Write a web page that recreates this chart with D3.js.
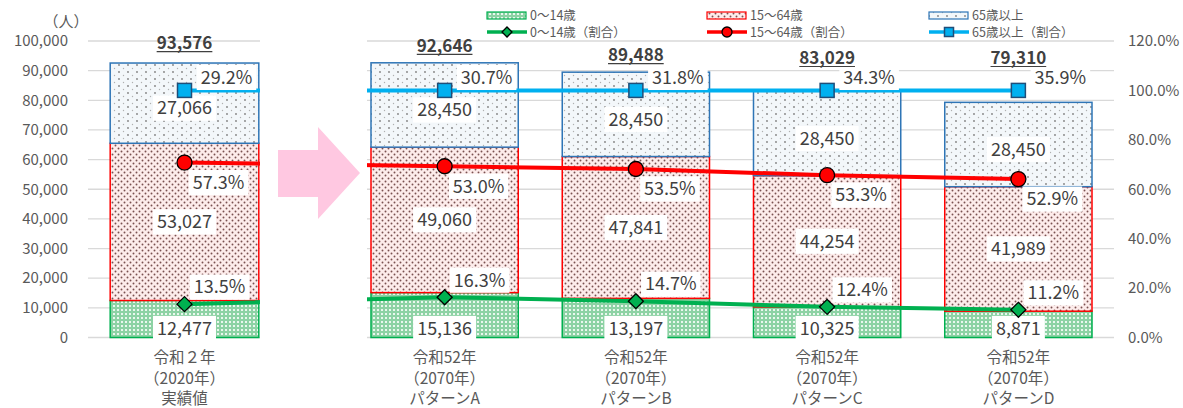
<!DOCTYPE html>
<html>
<head>
<meta charset="utf-8">
<script src="https://cdn.jsdelivr.net/npm/d3@7"></script>
<style>
  body { margin: 0; background: #fff; }
  text { font-family: "Noto Sans CJK JP", "Noto Sans", sans-serif; }
</style>
</head>
<body>
<div id="chart"></div>
<script>
// data
const categoryLines = [
  ["令和２年", "（2020年）", "実績値"],
  ["令和52年", "（2070年）", "パターンA"],
  ["令和52年", "（2070年）", "パターンB"],
  ["令和52年", "（2070年）", "パターンC"],
  ["令和52年", "（2070年）", "パターンD"]
];
const categories = ["2020", "A", "B", "C", "D"];
const pop0to14 = [12477, 15136, 13197, 10325, 8871];
const pop15to64 = [53027, 49060, 47841, 44254, 41989];
const pop65plus = [27066, 28450, 28450, 28450, 28450];
const totals = [93576, 92646, 89488, 83029, 79310];
const share0to14 = [13.5, 16.3, 14.7, 12.4, 11.2];
const share15to64 = [57.3, 53.0, 53.5, 53.3, 52.9];
const share65plus = [29.2, 30.7, 31.8, 34.3, 35.9];
const leftTicks = [0, 10000, 20000, 30000, 40000, 50000, 60000, 70000, 80000, 90000, 100000];
const rightTicks = [0, 20, 40, 60, 80, 100, 120];

const W = 1183, H = 408;
const svg = d3.select("#chart").append("svg").attr("width", W).attr("height", H);

// patterns
const defs = svg.append("defs");
const pg = defs.append("pattern").attr("id", "pGreen").attr("patternUnits", "userSpaceOnUse").attr("width", 4).attr("height", 4);
pg.append("rect").attr("width", 4).attr("height", 4).attr("fill", "#8dd2a4");
pg.append("rect").attr("x", 1).attr("y", 1).attr("width", 2).attr("height", 2).attr("fill", "#eaf7ee");
const pr = defs.append("pattern").attr("id", "pRed").attr("patternUnits", "userSpaceOnUse").attr("width", 6).attr("height", 6);
pr.append("rect").attr("width", 6).attr("height", 6).attr("fill", "#fdeceb");
pr.append("circle").attr("cx", 1.5).attr("cy", 1.5).attr("r", 0.95).attr("fill", "#7a5050");
pr.append("circle").attr("cx", 4.5).attr("cy", 4.5).attr("r", 0.95).attr("fill", "#7a5050");
const pb = defs.append("pattern").attr("id", "pBlue").attr("patternUnits", "userSpaceOnUse").attr("width", 9).attr("height", 7);
pb.append("rect").attr("width", 9).attr("height", 7).attr("fill", "#f3f7fa");
pb.append("circle").attr("cx", 2).attr("cy", 2).attr("r", 0.9).attr("fill", "#808080");
pb.append("circle").attr("cx", 6.5).attr("cy", 5.5).attr("r", 0.7).attr("fill", "#b0b0b0");

// clip for lines: hide the gap between the two panels
const clip = defs.append("clipPath").attr("id", "gapClip");
clip.append("rect").attr("x", 0).attr("y", 0).attr("width", 260).attr("height", H);
clip.append("rect").attr("x", 367).attr("y", 0).attr("width", W - 367).attr("height", H);

// scales
const y = d3.scaleLinear().domain([0, 100000]).range([337.5, 41]);
const yPct = d3.scaleLinear().domain([0, 120]).range([337.5, 41]);
const xLeft = d3.scaleBand().domain(categories.slice(0, 1)).range([88, 281]).paddingInner(0.23).paddingOuter(0.115);
const xRight = d3.scaleBand().domain(categories.slice(1)).range([349, 1114]).paddingInner(0.23).paddingOuter(0.115);
const xs = c => (c === categories[0] ? xLeft : xRight);
const xMid = c => xs(c)(c) + xs(c).bandwidth() / 2;

const textColor = "#595959";

// gridlines in two panels
[[88, 260], [367, 1114]].forEach(([x0, x1]) => {
  svg.append("g").selectAll("line").data(leftTicks).enter().append("line")
    .attr("x1", x0).attr("x2", x1)
    .attr("y1", d => y(d)).attr("y2", d => y(d))
    .attr("stroke", "#d9d9d9").attr("stroke-width", 1.3);
});

// left axis labels
svg.append("g").selectAll("text").data(leftTicks).enter().append("text")
  .attr("x", 68).attr("y", d => y(d)).attr("dy", "0.35em")
  .attr("text-anchor", "end").attr("font-size", 15).attr("fill", textColor)
  .text(d => d3.format(",")(d));
svg.append("text").attr("x", 66).attr("y", 22).attr("dy", "0.35em")
  .attr("text-anchor", "middle").attr("font-size", 15).attr("fill", textColor).text("（人）");

// right axis labels
svg.append("g").selectAll("text").data(rightTicks).enter().append("text")
  .attr("x", 1128).attr("y", d => yPct(d)).attr("dy", "0.35em")
  .attr("font-size", 15).attr("fill", textColor)
  .text(d => d.toFixed(1) + "%");

// arrow decoration
svg.append("polygon")
  .attr("points", "278,150 318,150 318,127 360,173 318,219 318,197 278,197")
  .attr("fill", "#ffc8e1");

// stacked bars
const table = categories.map((c, i) => ({ cat: c, young: pop0to14[i], work: pop15to64[i], old: pop65plus[i] }));
const keys = ["young", "work", "old"];
const fills = { young: "url(#pGreen)", work: "url(#pRed)", old: "url(#pBlue)" };
const strokes = { young: "#00b050", work: "#ff0000", old: "#2e75b6" };
const stacked = d3.stack().keys(keys)(table);

stacked.forEach(layer => {
  svg.append("g").selectAll("rect").data(layer).enter().append("rect")
    .attr("x", d => xs(d.data.cat)(d.data.cat))
    .attr("width", d => xs(d.data.cat).bandwidth())
    .attr("y", d => y(d[1]))
    .attr("height", d => y(d[0]) - y(d[1]))
    .attr("fill", fills[layer.key])
    .attr("stroke", strokes[layer.key]).attr("stroke-width", 1.5);
});

// label helper with white box
function boxLabel(g, x, yy, txt, size) {
  const t = g.append("text").attr("x", x).attr("y", yy).attr("dy", "0.35em")
    .attr("text-anchor", "middle").attr("font-size", size).attr("fill", "#404040").text(txt);
  const w = t.node().getComputedTextLength();
  g.insert("rect", () => t.node())
    .attr("x", x - w / 2 - 4).attr("y", yy - size * 0.7)
    .attr("width", w + 8).attr("height", size * 1.4).attr("fill", "#fff");
}

// value labels
const valLayer = svg.append("g");
stacked.forEach(layer => {
  layer.forEach(d => {
    const cx = xMid(d.data.cat);
    let cy = (y(d[0]) + y(d[1])) / 2;
    if (layer.key === "young") cy = Math.max(cy, y(0) - 9);
    if (layer.key === "old") cy += 5;
    boxLabel(valLayer, cx, cy, d3.format(",")(d[1] - d[0]), 18);
  });
});

// share lines (stacked cumulative)
const cum1 = share0to14;
const cum2 = share0to14.map((v, i) => v + share15to64[i]);
const cum3 = cum2.map((v, i) => v + share65plus[i]);
const lineGen = d3.line().x((d, i) => xMid(categories[i])).y(d => yPct(d));
const lines = [
  { cum: cum1, share: share0to14, color: "#00b050", marker: "diamond", dx: 35, dy: -17 },
  { cum: cum2, share: share15to64, color: "#ff0000", marker: "circle", dx: 34, dy: 20 },
  { cum: cum3, share: share65plus, color: "#00b0f0", marker: "square", dx: 42, dy: -13 }
];

function drawMarker(g, type, cx, cy, s, color) {
  if (type === "diamond") {
    const h = s / 2;
    g.append("path").attr("d", `M${cx},${cy - h}L${cx + h},${cy}L${cx},${cy + h}L${cx - h},${cy}Z`)
      .attr("fill", color).attr("stroke", "#000").attr("stroke-width", 1.3);
  } else if (type === "circle") {
    g.append("circle").attr("cx", cx).attr("cy", cy).attr("r", s / 2)
      .attr("fill", color).attr("stroke", "#000").attr("stroke-width", 1.3);
  } else {
    g.append("rect").attr("x", cx - s / 2).attr("y", cy - s / 2).attr("width", s).attr("height", s)
      .attr("fill", color).attr("stroke", "#1f4e79").attr("stroke-width", 1.5);
  }
}

lines.forEach(l => {
  svg.append("path").datum(l.cum)
    .attr("clip-path", "url(#gapClip)")
    .attr("fill", "none").attr("stroke", l.color).attr("stroke-width", 4)
    .attr("d", lineGen);
});
const markLayer = svg.append("g");
lines.forEach(l => {
  l.cum.forEach((v, i) => {
    const s = l.marker === "diamond" ? 15 : (l.marker === "circle" ? 15 : 14);
    drawMarker(markLayer, l.marker, xMid(categories[i]), yPct(v), s, l.color);
  });
});
const pctLayer = svg.append("g");
lines.forEach(l => {
  l.cum.forEach((v, i) => {
    boxLabel(pctLayer, xMid(categories[i]) + l.dx, yPct(v) + l.dy, l.share[i].toFixed(1) + "%", 18);
  });
});

// totals (bold, underlined)
const totLayer = svg.append("g");
totals.forEach((v, i) => {
  const cx = xMid(categories[i]);
  const cy = Math.min(y(v) - 17, 58);
  const t = totLayer.append("text").attr("x", cx).attr("y", cy).attr("dy", "0.35em")
    .attr("text-anchor", "middle").attr("font-size", 17).attr("font-weight", "bold")
    .attr("fill", "#404040").text(d3.format(",")(v));
  const w = t.node().getComputedTextLength();
  totLayer.append("line").attr("x1", cx - w / 2).attr("x2", cx + w / 2)
    .attr("y1", cy + 8.5).attr("y2", cy + 8.5).attr("stroke", "#404040").attr("stroke-width", 1.2);
});

// category labels
categories.forEach((c, i) => {
  categoryLines[i].forEach((s, k) => {
    svg.append("text").attr("x", xMid(c)).attr("y", 358 + k * 20.5).attr("dy", "0.35em")
      .attr("text-anchor", "middle").attr("font-size", 15.5).attr("fill", textColor).text(s);
  });
});

// legend
const legendItems = [
  { x: 487, fill: "url(#pGreen)", stroke: "#00b050", marker: "diamond", color: "#00b050", name: "0～14歳" },
  { x: 707, fill: "url(#pRed)", stroke: "#ff0000", marker: "circle", color: "#ff0000", name: "15～64歳" },
  { x: 929, fill: "url(#pBlue)", stroke: "#2e75b6", marker: "square", color: "#00b0f0", name: "65歳以上" }
];
const lg = svg.append("g");
legendItems.forEach(it => {
  lg.append("rect").attr("x", it.x).attr("y", 12).attr("width", 39).attr("height", 7)
    .attr("fill", it.fill).attr("stroke", it.stroke).attr("stroke-width", 1.2);
  lg.append("text").attr("x", it.x + 43).attr("y", 15.5).attr("dy", "0.35em")
    .attr("font-size", 12.5).attr("fill", textColor).text(it.name);
  lg.append("line").attr("x1", it.x).attr("x2", it.x + 40).attr("y1", 32).attr("y2", 32)
    .attr("stroke", it.color).attr("stroke-width", 3.5);
  const s = it.marker === "diamond" ? 10 : (it.marker === "circle" ? 10 : 9);
  drawMarker(lg, it.marker, it.x + 20, 32, s, it.color);
  lg.append("text").attr("x", it.x + 43).attr("y", 32.5).attr("dy", "0.35em")
    .attr("font-size", 12.5).attr("fill", textColor).text(it.name + "（割合）");
});
</script>
</body>
</html>
